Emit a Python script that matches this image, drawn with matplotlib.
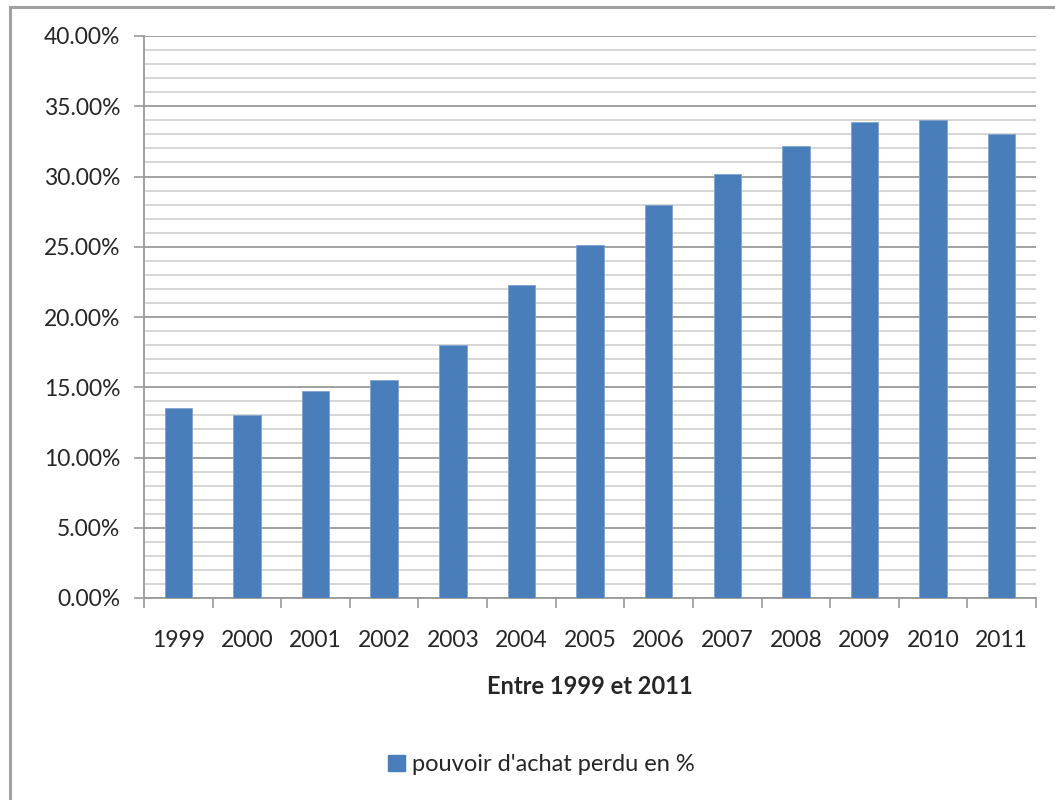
import matplotlib
matplotlib.use("Agg")
import matplotlib.pyplot as plt
from matplotlib.lines import Line2D
from matplotlib.patches import Patch
from matplotlib.ticker import MultipleLocator, FuncFormatter
import numpy as np

plt.rcParams['font.family'] = ['Lato', 'DejaVu Sans']

years = ['1999', '2000', '2001', '2002', '2003', '2004', '2005',
         '2006', '2007', '2008', '2009', '2010', '2011']
pouvoir_perdu = [13.5, 13.0, 14.7, 15.5, 18.0, 22.3, 25.1,
                 28.0, 30.2, 32.2, 33.9, 34.0, 33.0]

bar_color = '#4a7ebb'
text_color = '#262626'
tick_size = 16.5
label_size = 17

fig = plt.figure(figsize=[10.55, 8.0], dpi=100)
ax = fig.add_axes([0.1365, 0.2525, 0.8455, 0.7025])

x = np.arange(len(years))
ax.bar(x, pouvoir_perdu, width=0.40, color=bar_color, edgecolor='#7fa3d0',
       linewidth=0.6, zorder=3)

ax.set_xlim(-0.5, len(years) - 0.5)
ax.set_ylim(0, 40)
ax.yaxis.set_major_locator(MultipleLocator(5))
ax.yaxis.set_minor_locator(MultipleLocator(1))
ax.yaxis.set_major_formatter(FuncFormatter(lambda v, p: "{0:.2f}%".format(v)))
ax.grid(which='minor', axis='y', color='#d3d3d3', linewidth=1.3, zorder=0)
ax.grid(which='major', axis='y', color='#9a9a9a', linewidth=1.3, zorder=1)

# category labels centered, ticks at boundaries
ax.set_xticks(np.arange(len(years) + 1) - 0.5)
ax.set_xticklabels([''] * (len(years) + 1))
ax.set_xticks(x, minor=True)
ax.set_xticklabels(years, minor=True)
ax.tick_params(axis='x', which='major', length=7, width=1.2, color='#9a9a9a', direction='out')
ax.tick_params(axis='x', which='minor', length=0, pad=23, labelsize=tick_size, labelcolor=text_color)
ax.tick_params(axis='y', which='major', length=7, width=1.2, color='#9a9a9a', direction='out',
               labelsize=tick_size, labelcolor=text_color, pad=10)
ax.tick_params(axis='y', which='minor', length=0)

for side in ['top', 'right']:
    ax.spines[side].set_visible(False)
for side in ['left', 'bottom']:
    ax.spines[side].set_color('#9a9a9a')
    ax.spines[side].set_linewidth(1.3)

ax.set_xlabel("Entre 1999 et 2011", fontsize=label_size, fontweight='bold', color=text_color, labelpad=17)

handles = [Patch(facecolor=bar_color, edgecolor=bar_color, label="pouvoir d'achat perdu en %")]
fig.legend(handles=handles, loc='center', bbox_to_anchor=(0.513, 0.044), frameon=False,
           fontsize=label_size, handlelength=0.7, handleheight=0.7, handletextpad=0.3,
           labelcolor=text_color)

# outer chart frame (only left and top edges visible)
fig.add_artist(Line2D([9.5 / 1055, 9.5 / 1055], [0, 1 - 6.5 / 800], transform=fig.transFigure,
                      color='#a0a0a0', linewidth=2.2))
fig.add_artist(Line2D([9.5 / 1055, 1], [1 - 6.5 / 800, 1 - 6.5 / 800], transform=fig.transFigure,
                      color='#a0a0a0', linewidth=2.2))

plt.savefig("out.png", dpi=100)
